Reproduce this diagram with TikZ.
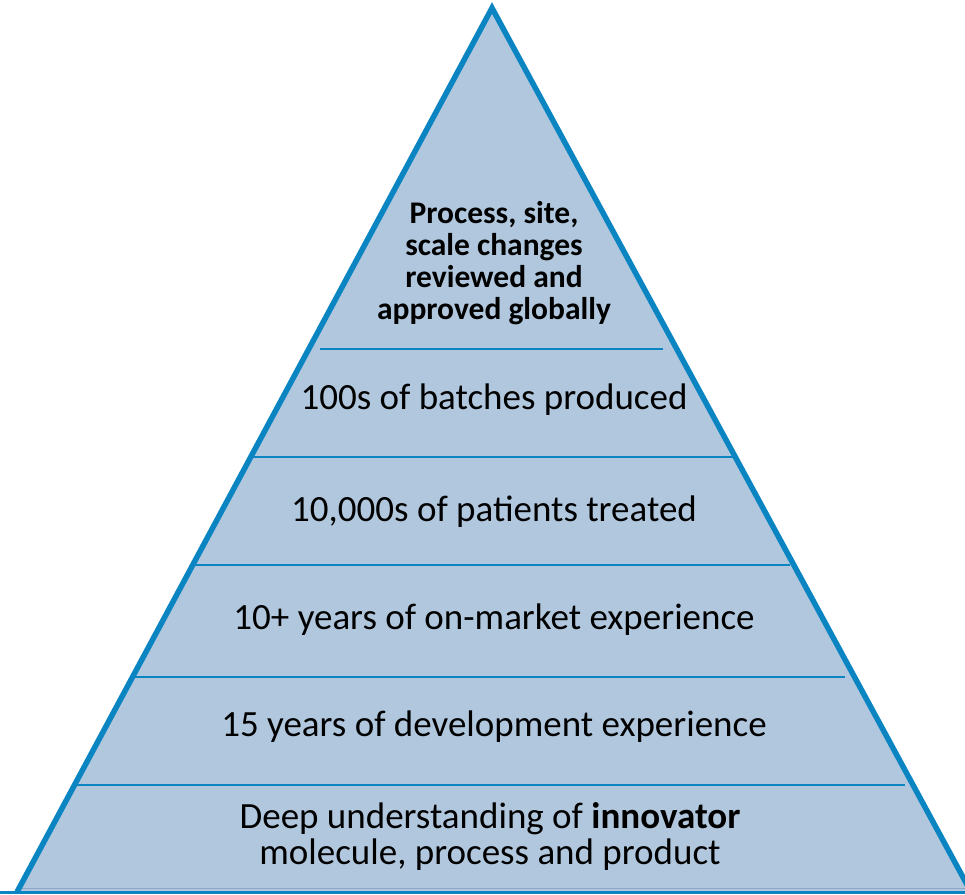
\documentclass[tikz,border=0pt]{standalone}
\usepackage{fontspec}
\setmainfont{Carlito}
\definecolor{tierfill}{HTML}{B1C7DD}
\definecolor{tierline}{HTML}{0B85C1}
\definecolor{baseshade}{HTML}{8CA6C6}
\begin{document}
\begin{tikzpicture}[x=1pt,y=-1pt,
  outline/.style={draw=tierline,line width=5.5pt,line join=miter},
  divider/.style={draw=tierline,line width=2.4pt},
  tiertext/.style={font=\fontsize{37}{36}\selectfont,inner sep=0pt,anchor=base,align=center},
  toptext/.style={font=\fontsize{31.5}{32}\selectfont\bfseries,inner sep=0pt,align=center}]
  \useasboundingbox (0,0) rectangle (965,894);
  % pyramid corners
  \coordinate (apex) at (492,8);
  \coordinate (bl) at (17,892);
  \coordinate (br) at (971,892);
  \fill[tierfill] (apex) -- (bl) -- (br) -- cycle;
  % tier dividers
  \coordinate (d1l) at (320,349); \coordinate (d1r) at (663,349);
  \coordinate (d2l) at (248,457); \coordinate (d2r) at (733,457);
  \coordinate (d3l) at (192,565); \coordinate (d3r) at (790,565);
  \coordinate (d4l) at (132,677); \coordinate (d4r) at (845,677);
  \coordinate (d5l) at (72,785);  \coordinate (d5r) at (905,785);
  \draw[divider] (d1l) -- (d1r);
  \draw[divider] (d2l) -- (d2r);
  \draw[divider] (d3l) -- (d3r);
  \draw[divider] (d4l) -- (d4r);
  \draw[divider] (d5l) -- (d5r);
  % base shading and outline
  \coordinate (sl) at (20,888.5); \coordinate (sr) at (965,888.5);
  \draw[baseshade,line width=1.5pt] (sl) -- (sr);
  \draw[outline] (bl) -- (apex) -- (br);
  \coordinate (bl0) at (0,892.5); \coordinate (br0) at (965,892.5);
  \draw[tierline,line width=3pt] (bl0) -- (br0);
  % tier labels
  \node[toptext] (t6) at (494,263) {Process, site,\\scale changes\\reviewed and\\approved globally};
  \node[tiertext] (t5) at (494,409) {100s of batches produced};
  \node[tiertext] (t4) at (494,521) {10,000s of patients treated};
  \node[tiertext] (t3) at (494,629) {10+ years of on-market experience};
  \node[tiertext] (t2) at (494,736) {15 years of development experience};
  \node[tiertext] (t1) at (490,828) {Deep understanding of \textbf{innovator}};
  \node[tiertext] (t1b) at (490,864) {molecule, process and product};
\end{tikzpicture}
\end{document}
